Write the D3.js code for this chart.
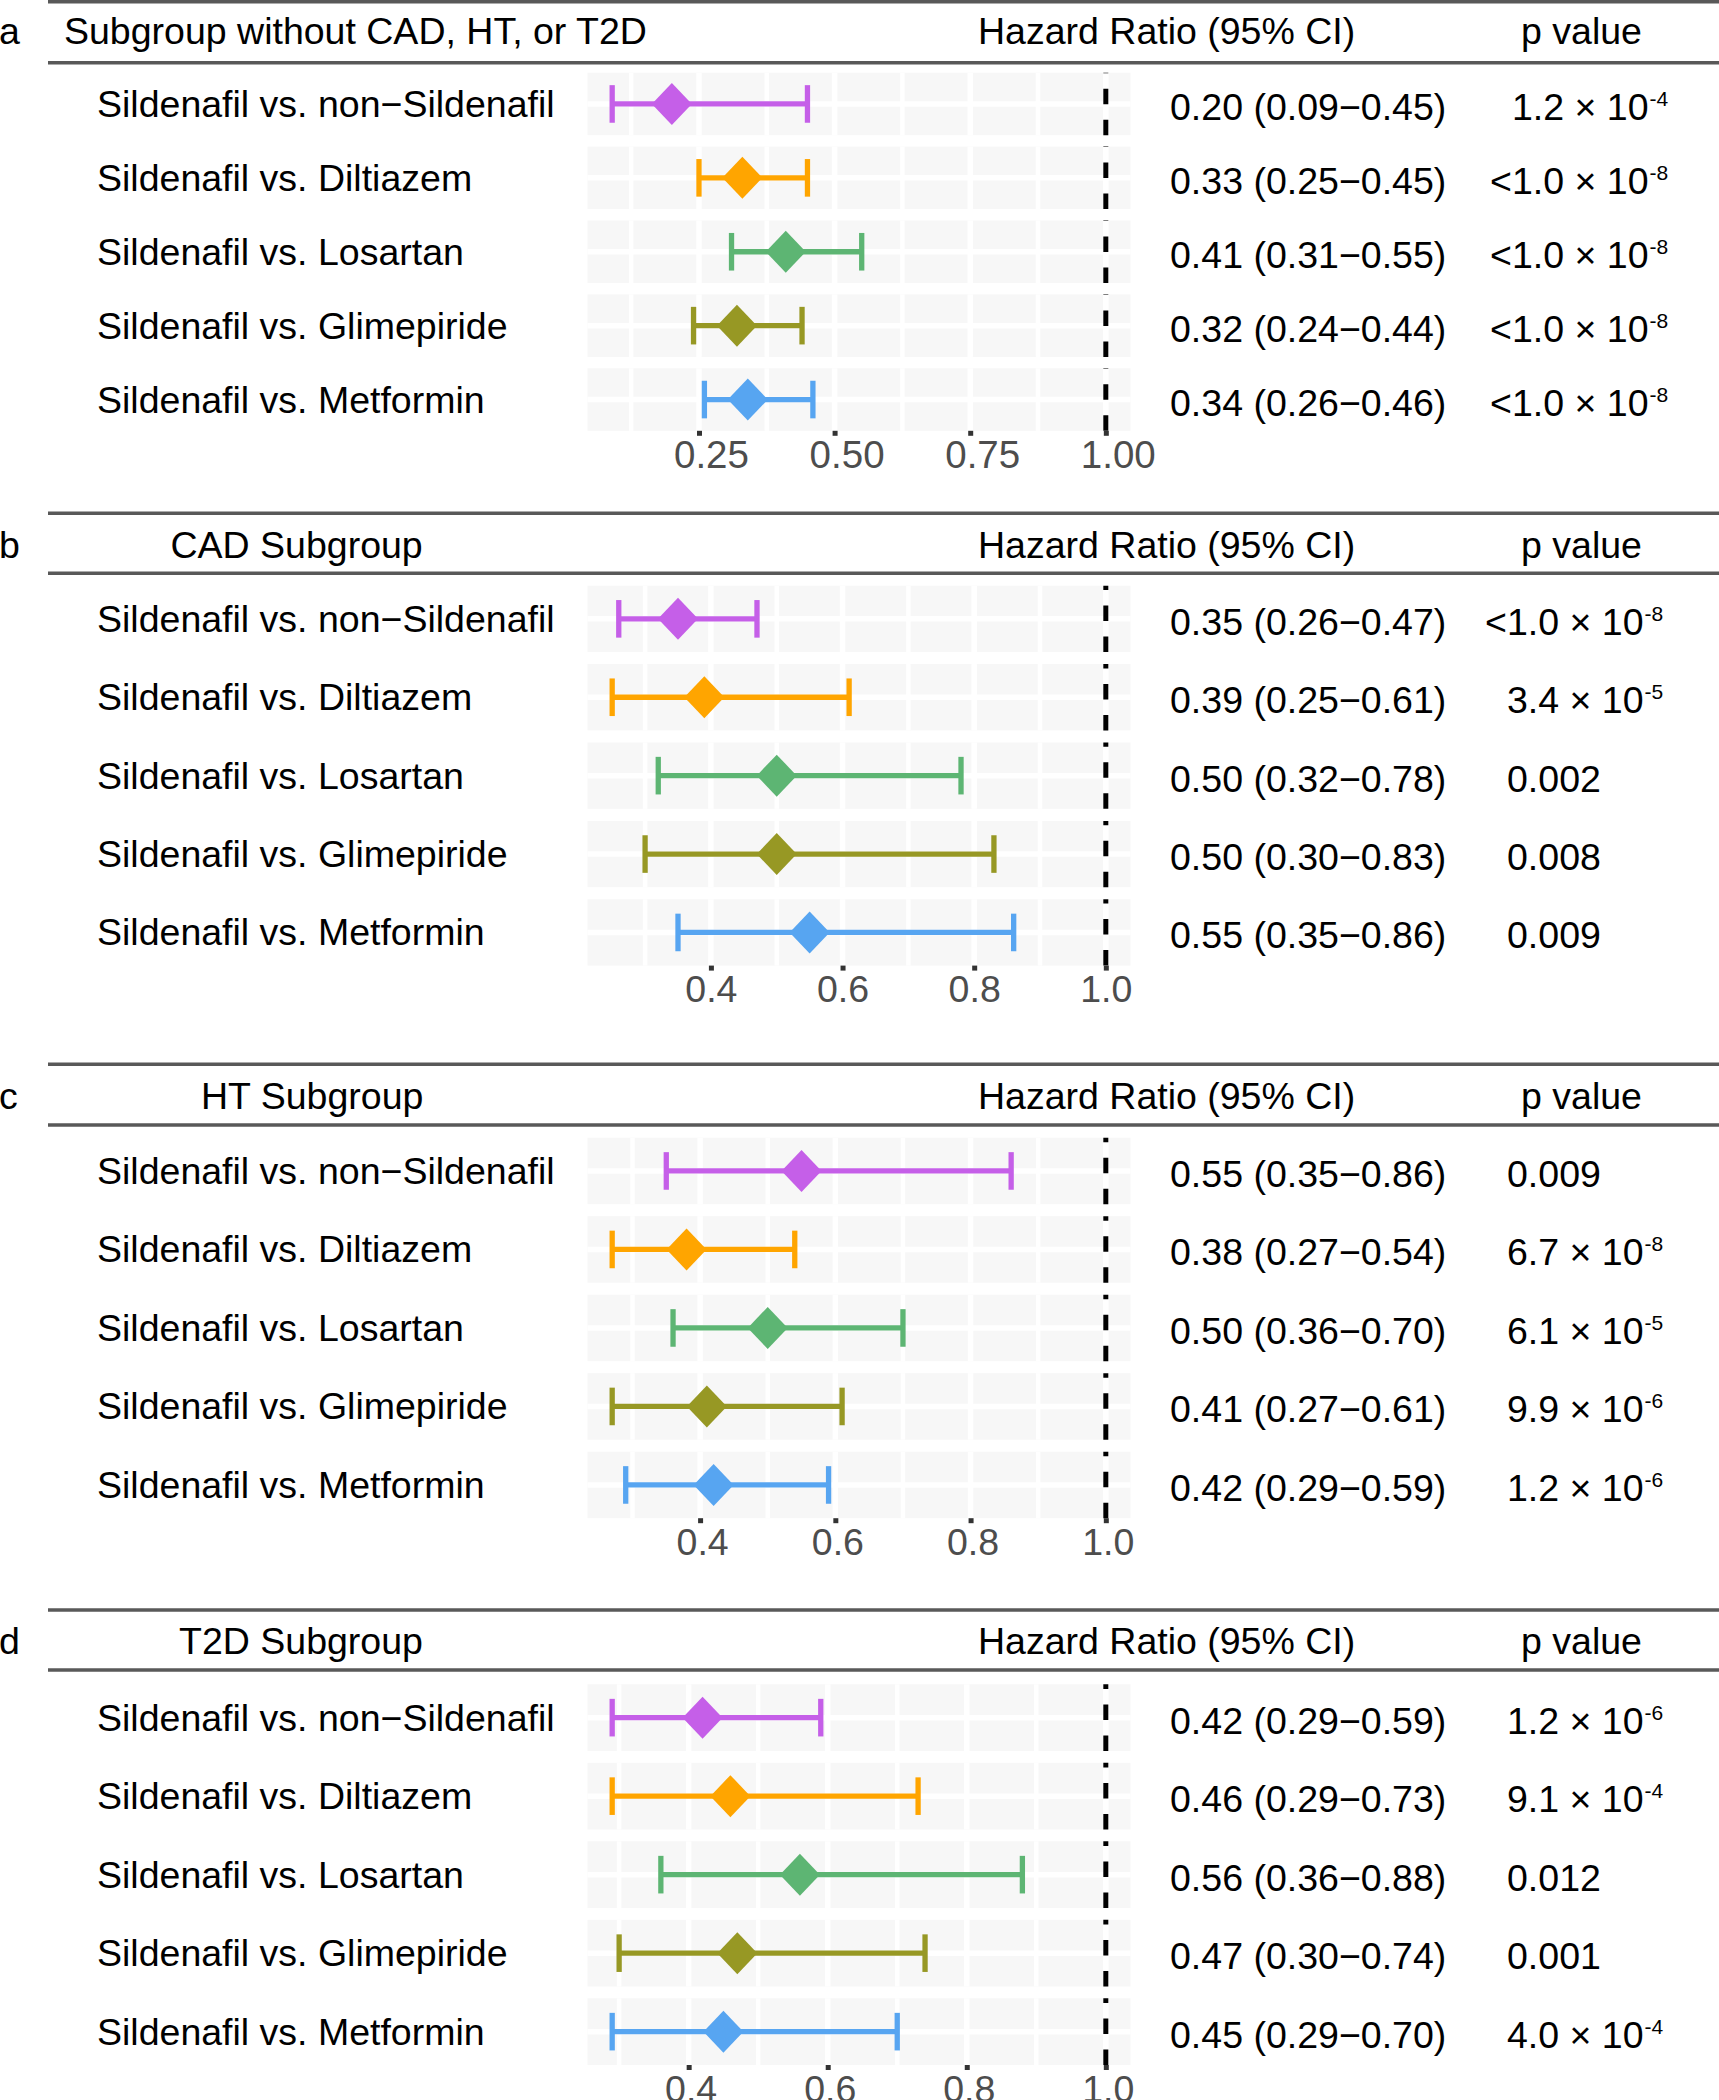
<!DOCTYPE html>
<html><head><meta charset="utf-8">
<script src="https://cdn.jsdelivr.net/npm/d3@7"></script>
<style>
html,body{margin:0;padding:0;background:#fff;}
svg{display:block;}
text{font-family:"Liberation Sans",Arial,Helvetica,sans-serif;}
</style></head><body>
<svg id="chart" width="1719" height="2100"></svg>
<script>
// ---------- data ----------
const categories = [
  "Sildenafil vs. non\u2212Sildenafil",
  "Sildenafil vs. Diltiazem",
  "Sildenafil vs. Losartan",
  "Sildenafil vs. Glimepiride",
  "Sildenafil vs. Metformin"
];
const seriesColors = ["#C55FE8", "#FFA500", "#5DB573", "#979824", "#57A5F1"];

const panelLetters = ["a", "b", "c", "d"];
const panelTitles = ["Subgroup without CAD, HT, or T2D", "CAD Subgroup", "HT Subgroup", "T2D Subgroup"];
const headerHR = "Hazard Ratio (95% CI)";
const headerP = "p value";
const refValue = 1.0;

const hrA = [0.20, 0.33, 0.41, 0.32, 0.34];
const loA = [0.09, 0.25, 0.31, 0.24, 0.26];
const hiA = [0.45, 0.45, 0.55, 0.44, 0.46];
const pA  = ["1.2 \u00d7 10^-4", "<1.0 \u00d7 10^-8", "<1.0 \u00d7 10^-8", "<1.0 \u00d7 10^-8", "<1.0 \u00d7 10^-8"];

const hrB = [0.35, 0.39, 0.50, 0.50, 0.55];
const loB = [0.26, 0.25, 0.32, 0.30, 0.35];
const hiB = [0.47, 0.61, 0.78, 0.83, 0.86];
const pB  = ["<1.0 \u00d7 10^-8", "3.4 \u00d7 10^-5", "0.002", "0.008", "0.009"];

const hrC = [0.55, 0.38, 0.50, 0.41, 0.42];
const loC = [0.35, 0.27, 0.36, 0.27, 0.29];
const hiC = [0.86, 0.54, 0.70, 0.61, 0.59];
const pC  = ["0.009", "6.7 \u00d7 10^-8", "6.1 \u00d7 10^-5", "9.9 \u00d7 10^-6", "1.2 \u00d7 10^-6"];

const hrD = [0.42, 0.46, 0.56, 0.47, 0.45];
const loD = [0.29, 0.29, 0.36, 0.30, 0.29];
const hiD = [0.59, 0.73, 0.88, 0.74, 0.70];
const pD  = ["1.2 \u00d7 10^-6", "9.1 \u00d7 10^-4", "0.012", "0.001", "4.0 \u00d7 10^-4"];

const ticksA = [0.25, 0.50, 0.75, 1.00];
const tickLabelsA = ["0.25", "0.50", "0.75", "1.00"];
const ticksBCD = [0.4, 0.6, 0.8, 1.0];
const tickLabelsBCD = ["0.4", "0.6", "0.8", "1.0"];

const panels = [
  {hr: hrA, lo: loA, hi: hiA, p: pA, ticks: ticksA, tickLabels: tickLabelsA},
  {hr: hrB, lo: loB, hi: hiB, p: pB, ticks: ticksBCD, tickLabels: tickLabelsBCD},
  {hr: hrC, lo: loC, hi: hiC, p: pC, ticks: ticksBCD, tickLabels: tickLabelsBCD},
  {hr: hrD, lo: loD, hi: hiD, p: pD, ticks: ticksBCD, tickLabels: tickLabelsBCD}
];

// ---------- layout (positions / styles) ----------
const layout = [
  {top: 1.8,    rule2: 62.7,   head: 44,   rowTop: 72.7,   pitch: 73.9, h: 62.5, titleX: 64,    pX: 1512, tickDx: 12, tickFs: 38.5},
  {top: 513.3,  rule2: 573.3,  head: 558,  rowTop: 585.7,  pitch: 78.4, h: 66.3, titleX: 170.5, pX: 1507, tickDx: 0,  tickFs: 37.5},
  {top: 1064.3, rule2: 1125,   head: 1109, rowTop: 1137.7, pitch: 78.5, h: 66.5, titleX: 201,   pX: 1507, tickDx: 2,  tickFs: 37.5},
  {top: 1610,   rule2: 1670,   head: 1654, rowTop: 1684.3, pitch: 78.5, h: 66.7, titleX: 179,   pX: 1507, tickDx: 2,  tickFs: 37.5}
];
const FS = 37.5;
const plotX0 = 587.5, plotX1 = 1130.5;
const labelX = 97, hrX = 1170, hrHeadX = 978, pHeadX = 1521, ruleX0 = 48, ruleX1 = 1719;
const fmt = d3.format(".2f");

const svg = d3.select("#chart");

function drawP(g, x, y, str) {
  let s = str;
  if (s.startsWith("<")) {
    g.append("text").attr("x", x).attr("y", y).attr("text-anchor", "end")
      .attr("font-size", FS).attr("fill", "#000").text("<");
    s = s.slice(1);
  }
  const parts = s.split("^");
  const t = g.append("text").attr("x", x).attr("y", y).attr("font-size", FS).attr("fill", "#000");
  t.append("tspan").text(parts[0]);
  if (parts.length > 1) {
    t.append("tspan").attr("dx", 1).attr("dy", -14).attr("font-size", 21).text(parts[1]);
  }
}

panels.forEach((P, pi) => {
  const L = layout[pi];
  const g = svg.append("g");

  // rules
  [L.top, L.rule2].forEach(yy => {
    g.append("line").attr("x1", ruleX0).attr("x2", ruleX1).attr("y1", yy).attr("y2", yy)
      .attr("stroke", "#595959").attr("stroke-width", 3.5);
  });

  // header texts
  g.append("text").attr("x", -1).attr("y", L.head).attr("font-size", FS).text(panelLetters[pi]);
  g.append("text").attr("x", L.titleX).attr("y", L.head).attr("font-size", FS).text(panelTitles[pi]);
  g.append("text").attr("x", hrHeadX).attr("y", L.head).attr("font-size", FS).text(headerHR);
  g.append("text").attr("x", pHeadX).attr("y", L.head).attr("font-size", FS).text(headerP);

  // scales
  const dmin = Math.min(d3.min(P.lo), refValue);
  const dmax = Math.max(d3.max(P.hi), refValue);
  const pad = (dmax - dmin) * 0.05;
  const x = d3.scaleLinear().domain([dmin - pad, dmax + pad]).range([plotX0, plotX1]);
  const y = d3.scaleBand().domain(categories)
    .range([L.rowTop, L.rowTop + (categories.length - 1) * L.pitch + L.h])
    .paddingInner((L.pitch - L.h) / L.pitch).paddingOuter(0);
  const bw = y.bandwidth();

  // minor grid positions
  const step = P.ticks[1] - P.ticks[0];
  const minors = [];
  for (let i = -1; i < P.ticks.length; i++) {
    const v = P.ticks[0] + step * (i + 0.5);
    if (v > x.domain()[0] && v < x.domain()[1]) minors.push(v);
  }

  categories.forEach((cat, i) => {
    const y0 = y(cat), yc = y0 + bw / 2;
    const row = g.append("g");
    row.append("rect").attr("x", plotX0).attr("y", y0).attr("width", plotX1 - plotX0).attr("height", bw)
      .attr("fill", "#F7F7F7");
    minors.forEach(v => row.append("line").attr("x1", x(v)).attr("x2", x(v)).attr("y1", y0).attr("y2", y0 + bw)
      .attr("stroke", "#fff").attr("stroke-width", 4.5));
    P.ticks.forEach(v => row.append("line").attr("x1", x(v)).attr("x2", x(v)).attr("y1", y0).attr("y2", y0 + bw)
      .attr("stroke", "#fff").attr("stroke-width", 5.5));
    row.append("line").attr("x1", plotX0).attr("x2", plotX1).attr("y1", yc).attr("y2", yc)
      .attr("stroke", "#fff").attr("stroke-width", 5.5);
    // reference dashed line (drawn bottom -> top)
    row.append("line").attr("x1", x(refValue)).attr("x2", x(refValue)).attr("y1", y0 + bw).attr("y2", y0)
      .attr("stroke", "#000").attr("stroke-width", 5).attr("stroke-dasharray", "15.5 15.5");

    const col = seriesColors[i];
    const xl = x(P.lo[i]), xh = x(P.hi[i]), xm = x(P.hr[i]);
    row.append("line").attr("x1", xl).attr("x2", xh).attr("y1", yc).attr("y2", yc)
      .attr("stroke", col).attr("stroke-width", 5.3);
    [xl, xh].forEach(xx => row.append("line").attr("x1", xx).attr("x2", xx)
      .attr("y1", yc - 18.8).attr("y2", yc + 18.8).attr("stroke", col).attr("stroke-width", 5.3));
    row.append("path")
      .attr("d", `M${xm},${yc - 21}L${xm + 20},${yc}L${xm},${yc + 21}L${xm - 20},${yc}Z`)
      .attr("fill", col);

    // texts
    g.append("text").attr("x", labelX).attr("y", yc + 13).attr("font-size", FS).text(cat);
    g.append("text").attr("x", hrX).attr("y", yc + 16).attr("font-size", FS)
      .text(`${fmt(P.hr[i])} (${fmt(P.lo[i])}\u2212${fmt(P.hi[i])})`);
    drawP(g, L.pX, yc + 16, P.p[i]);
  });

  // axis
  const lastBottom = y(categories[categories.length - 1]) + bw;
  const axis = d3.axisBottom(x).tickValues(P.ticks)
    .tickFormat((d, i) => P.tickLabels[i]).tickSize(5).tickPadding(5);
  const ag = g.append("g").attr("transform", `translate(0,${lastBottom})`).call(axis);
  ag.select(".domain").remove();
  ag.selectAll(".tick line").attr("stroke", "#333").attr("stroke-width", 5);
  ag.selectAll(".tick text").attr("fill", "#4D4D4D").attr("font-size", L.tickFs).attr("dx", L.tickDx)
    .attr("font-family", "'Liberation Sans',Arial,Helvetica,sans-serif");
});
</script>
</body></html>
